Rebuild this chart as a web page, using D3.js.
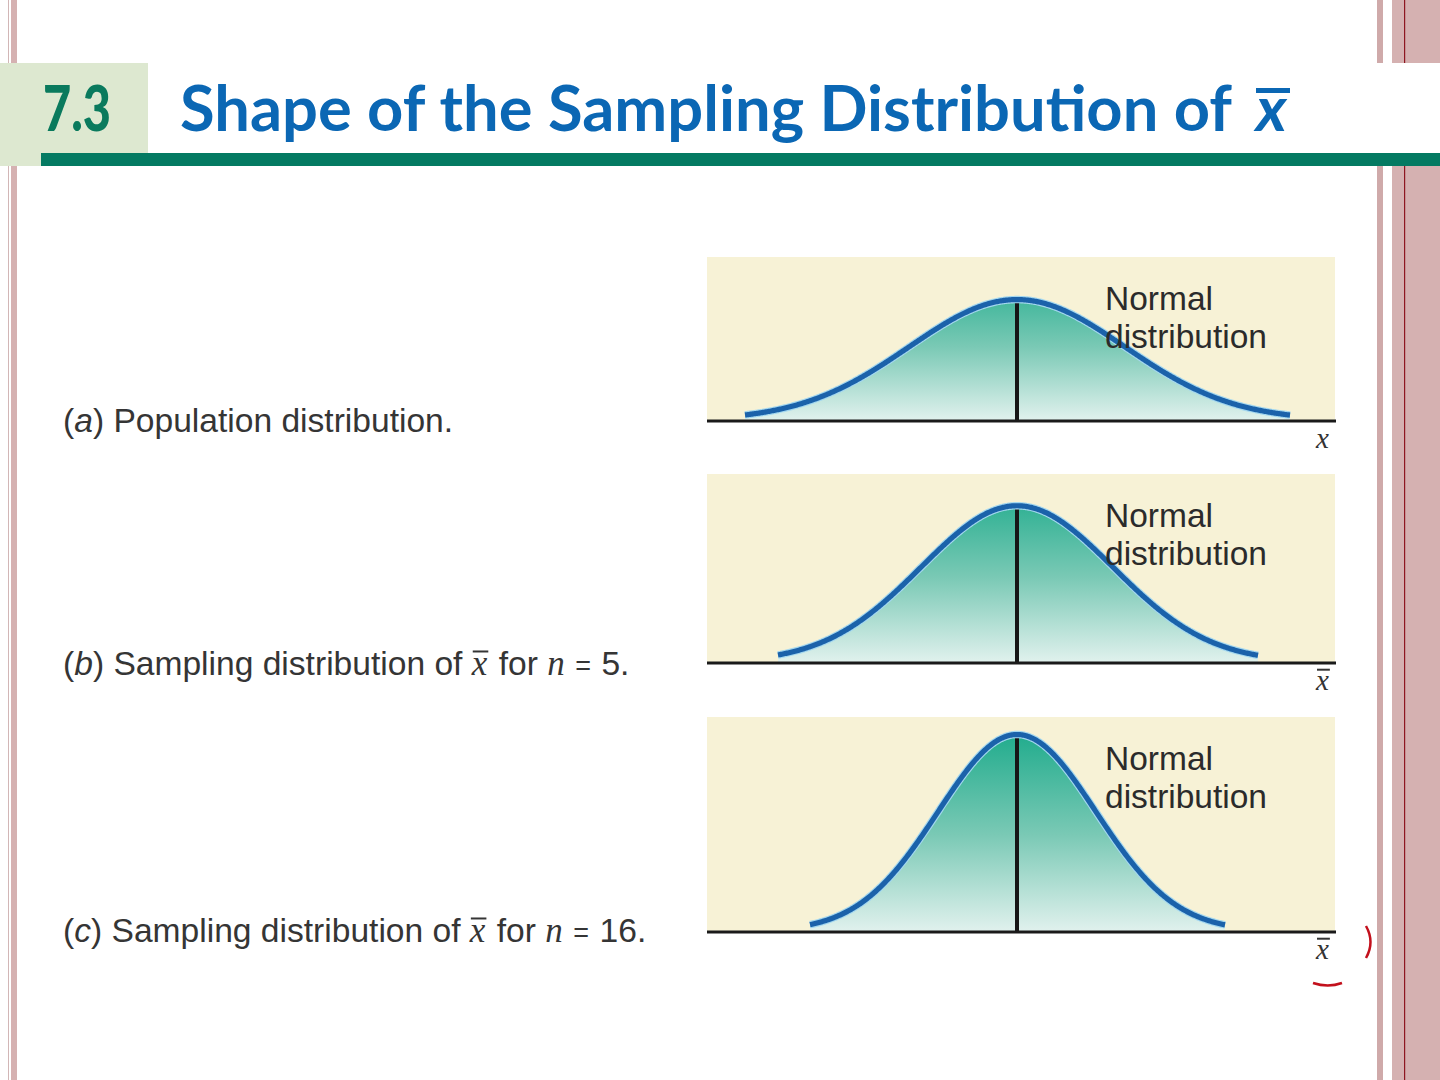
<!DOCTYPE html>
<html>
<head>
<meta charset="utf-8">
<script src="https://cdn.jsdelivr.net/npm/d3@7"></script>
<style>
  html, body { margin: 0; padding: 0; background: #fff; }
  svg text { white-space: pre; }
</style>
</head>
<body>
<script>
// values
var panelIds   = ['a', 'b', 'c'];
var means      = [0, 0, 0];
var sds        = [1.08, 0.96, 0.79];      // spread of each curve
var tailLo     = [-2.72, -2.39, -2.07];   // where each drawn curve starts
var tailHi     = [2.73, 2.41, 2.08];      // ... and ends
var yTops      = [0.50, 0.50, 0.55];      // density at the top of each panel
var axisBars   = [false, true, true];     // x or x-bar under the axis
var sampleSize = [null, '5', '16'];
var curveNote  = ['Normal', 'distribution'];
var sectionNo  = '7.3';
var titleText  = 'Shape of the Sampling Distribution of';

var W = 1440, H = 1080;

// panel layout
var panelLeft = 707, panelRight = 1335;
var panelTop  = [257, 474, 717],
    panelAxis = [420, 662, 931],
    labelY    = [432, 675, 942];

var svg = d3.select('body').append('svg')
    .attr('width', W).attr('height', H);

var defs = svg.append('defs');

var sans  = 'Liberation Sans, Arial, Helvetica, sans-serif',
    serif = 'Liberation Serif, Times New Roman, serif',
    head  = 'Lato, Open Sans, sans-serif';

// slide frame strips
var pink = '#d5b1b1';
svg.append('rect').attr('x', 8).attr('y', 0).attr('width', 1).attr('height', H).attr('fill', '#d2b6b6');
svg.append('rect').attr('x', 11).attr('y', 0).attr('width', 6).attr('height', H).attr('fill', pink);
svg.append('rect').attr('x', 1377).attr('y', 0).attr('width', 6).attr('height', H).attr('fill', '#cfaaaa');
svg.append('rect').attr('x', 1392).attr('y', 0).attr('width', 48).attr('height', H).attr('fill', pink);
svg.append('rect').attr('x', 1404).attr('y', 0).attr('width', 1.2).attr('height', H).attr('fill', '#8e1620');

// header
svg.append('rect').attr('x', 0).attr('y', 63).attr('width', W).attr('height', 103).attr('fill', '#fff');
svg.append('rect').attr('x', 0).attr('y', 63).attr('width', 148).attr('height', 103).attr('fill', '#dde8d0');
svg.append('rect').attr('x', 41).attr('y', 153).attr('width', W - 41).attr('height', 13).attr('fill', '#047a62');

svg.append('text').text(sectionNo)
    .attr('x', 43).attr('y', 131)
    .attr('font-family', head).attr('font-weight', 900).attr('font-size', 62)
    .attr('fill', '#0a7a5d')
    .attr('textLength', 68).attr('lengthAdjust', 'spacingAndGlyphs');

svg.append('text').text(titleText)
    .attr('x', 180).attr('y', 131)
    .attr('font-family', head).attr('font-weight', 700).attr('font-size', 63)
    .attr('fill', '#0b67b4')
    .attr('textLength', 1052).attr('lengthAdjust', 'spacingAndGlyphs');

svg.append('text').text('x')
    .attr('x', 1256).attr('y', 131)
    .attr('font-family', head).attr('font-weight', 700).attr('font-style', 'italic')
    .attr('font-size', 63).attr('fill', '#0b67b4');
svg.append('rect').attr('x', 1256).attr('y', 88).attr('width', 34).attr('height', 5).attr('fill', '#0b67b4');

// writes a label made of pieces with different styles, side by side
function richText(sel, x, y, parts, size, color) {
  var cx = x;
  parts.forEach(function(p) {
    var t = sel.append('text')
        .attr('x', cx).attr('y', y)
        .attr('xml:space', 'preserve')
        .attr('font-family', p.serif ? serif : sans)
        .attr('font-style', p.italic ? 'italic' : 'normal')
        .attr('font-size', p.size || size)
        .attr('fill', color)
        .text(p.t);
    var w = t.node().getComputedTextLength();
    if (p.bar) {
      sel.append('line')
          .attr('x1', cx + 1).attr('x2', cx + w + 1)
          .attr('y1', y - size * 0.7).attr('y2', y - size * 0.7)
          .attr('stroke', color).attr('stroke-width', 2);
    }
    cx += w + (p.gap || 0);
  });
}

var x = d3.scaleLinear().domain([-3.1, 3.18]).range([panelLeft, panelRight]);

function density(v, mu, sd) {
  var z = (v - mu) / sd;
  return Math.exp(-0.5 * z * z) / (sd * Math.sqrt(2 * Math.PI));
}

panelIds.forEach(function(id, i) {
  var y = d3.scaleLinear().domain([0, yTops[i]]).range([panelAxis[i], panelTop[i]]);
  var g = svg.append('g').attr('class', 'panel panel-' + id);

  var grad = defs.append('linearGradient')
      .attr('id', 'fill-' + id)
      .attr('gradientUnits', 'userSpaceOnUse')
      .attr('x1', 0).attr('x2', 0)
      .attr('y1', panelTop[i]).attr('y2', panelAxis[i]);
  grad.append('stop').attr('offset', '0%').attr('stop-color', '#12a786');
  grad.append('stop').attr('offset', '55%').attr('stop-color', '#7ac9b5');
  grad.append('stop').attr('offset', '100%').attr('stop-color', '#e0f1ed');

  g.append('rect')
      .attr('x', panelLeft).attr('y', panelTop[i])
      .attr('width', panelRight - panelLeft).attr('height', panelAxis[i] - panelTop[i])
      .attr('fill', '#f7f2d6');

  var pts = d3.range(tailLo[i], tailHi[i], 0.01).concat([tailHi[i]])
      .map(function(v) { return [v, density(v, means[i], sds[i])]; });

  g.append('path').datum(pts)
      .attr('d', d3.area().x(d => x(d[0])).y0(y(0)).y1(d => y(d[1])))
      .attr('fill', 'url(#fill-' + id + ')');

  g.append('line')
      .attr('x1', x(means[i])).attr('x2', x(means[i]))
      .attr('y1', y(0)).attr('y2', y(density(means[i], means[i], sds[i])))
      .attr('stroke', '#161616').attr('stroke-width', 4);

  var line = d3.line().x(d => x(d[0])).y(d => y(d[1]));
  g.append('path').datum(pts)
      .attr('d', line).attr('fill', 'none')
      .attr('stroke', '#a3d7ef').attr('stroke-width', 7.5);
  g.append('path').datum(pts)
      .attr('d', line).attr('fill', 'none')
      .attr('stroke', '#1b62aa').attr('stroke-width', 5.2);

  g.append('line')
      .attr('x1', panelLeft).attr('x2', panelRight + 1)
      .attr('y1', y(0) + 1).attr('y2', y(0) + 1)
      .attr('stroke', '#1a1a1a').attr('stroke-width', 3);

  // curve note
  curveNote.forEach(function(s, k) {
    g.append('text').text(s)
        .attr('x', 1105).attr('y', panelTop[i] + 53 + k * 38)
        .attr('font-family', sans).attr('font-size', 33.5)
        .attr('fill', '#2b2b2b');
  });

  // axis variable
  richText(g, 1316, y(0) + 28, [{t: 'x', serif: true, italic: true, bar: axisBars[i]}], 29, '#333');

  // left caption
  var parts = [{t: '('}, {t: id, italic: true}];
  if (sampleSize[i] === null) {
    parts.push({t: ') Population distribution.'});
  } else {
    parts.push({t: ') Sampling distribution of '});
    parts.push({t: 'x', serif: true, italic: true, bar: true, size: 35, gap: 2});
    parts.push({t: ' for '});
    parts.push({t: 'n', serif: true, italic: true, size: 35, gap: 3});
    parts.push({t: ' = ', size: 27, gap: 3});
    parts.push({t: sampleSize[i] + '.'});
  }
  richText(g, 63, labelY[i], parts, 33.6, '#353535');
});

// red marks of a half hidden circle at the lower right
svg.append('path')
    .attr('d', 'M1366,926 Q1375,942 1366,958')
    .attr('fill', 'none').attr('stroke', '#c3101c').attr('stroke-width', 2.5);
svg.append('path')
    .attr('d', 'M1313,983 Q1328,988 1342,983')
    .attr('fill', 'none').attr('stroke', '#c3101c').attr('stroke-width', 2.5);
</script>
</body>
</html>
